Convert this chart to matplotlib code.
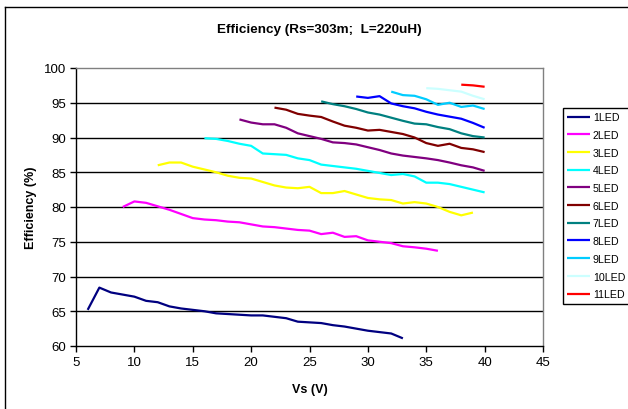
import matplotlib
matplotlib.use("Agg")
import matplotlib.pyplot as plt
from matplotlib.lines import Line2D

plt.rcParams['font.family'] = ['Liberation Sans', 'DejaVu Sans']

labels = ["1LED", "2LED", "3LED", "4LED", "5LED", "6LED", "7LED", "8LED", "9LED", "10LED", "11LED"]
colors = ["#000080", "#FF00FF", "#FFFF00", "#00FFFF", "#800080", "#800000",
          "#008080", "#0000FF", "#00CCFF", "#CCFFFF", "#FF0000"]

vs_1 = list(range(6, 34))
eff_1 = [65.2, 68.4, 67.7, 67.4, 67.1, 66.5, 66.3, 65.7, 65.4, 65.2, 65.0, 64.7, 64.6, 64.5,
         64.4, 64.4, 64.2, 64.0, 63.5, 63.4, 63.3, 63.0, 62.8, 62.5, 62.2, 62.0, 61.8, 61.1]
vs_2 = list(range(9, 37))
eff_2 = [80.0, 80.8, 80.6, 80.1, 79.6, 79.0, 78.4, 78.2, 78.1, 77.9, 77.8, 77.5, 77.2, 77.1,
         76.9, 76.7, 76.6, 76.1, 76.3, 75.7, 75.8, 75.2, 75.0, 74.8, 74.35, 74.2, 74.0, 73.7]
vs_3 = list(range(12, 40))
eff_3 = [86.0, 86.4, 86.4, 85.8, 85.4, 85.0, 84.5, 84.2, 84.1, 83.6, 83.1, 82.8, 82.7, 82.9,
         82.0, 82.0, 82.3, 81.8, 81.3, 81.1, 81.0, 80.5, 80.7, 80.5, 80.0, 79.3, 78.8, 79.2]
vs_4 = list(range(16, 41))
eff_4 = [89.9, 89.8, 89.5, 89.1, 88.8, 87.7, 87.6, 87.5, 87.0, 86.75, 86.1, 85.9, 85.7, 85.5,
         85.2, 84.9, 84.6, 84.75, 84.4, 83.5, 83.5, 83.3, 82.9, 82.5, 82.1]
vs_5 = list(range(19, 41))
eff_5 = [92.6, 92.15, 91.9, 91.9, 91.4, 90.6, 90.2, 89.8, 89.3, 89.2, 89.0, 88.6, 88.2, 87.7,
         87.4, 87.2, 87.0, 86.75, 86.4, 86.0, 85.7, 85.2]
vs_6 = list(range(22, 41))
eff_6 = [94.3, 94.0, 93.4, 93.15, 92.95, 92.3, 91.7, 91.4, 91.0, 91.1, 90.8, 90.5, 90.0, 89.2,
         88.8, 89.1, 88.5, 88.3, 87.9]
vs_7 = list(range(26, 41))
eff_7 = [95.2, 94.8, 94.5, 94.1, 93.6, 93.3, 92.85, 92.4, 92.0, 91.9, 91.5, 91.2, 90.6, 90.2, 90.0]
vs_8 = list(range(29, 41))
eff_8 = [95.9, 95.7, 95.95, 94.9, 94.5, 94.2, 93.7, 93.3, 93.0, 92.7, 92.1, 91.4]
vs_9 = list(range(32, 41))
eff_9 = [96.6, 96.1, 96.0, 95.5, 94.7, 95.0, 94.4, 94.6, 94.1]
vs_10 = list(range(35, 41))
eff_10 = [97.1, 97.0, 96.8, 96.6, 96.0, 95.5]
vs_11 = list(range(38, 41))
eff_11 = [97.6, 97.5, 97.3]

series_x = [vs_1, vs_2, vs_3, vs_4, vs_5, vs_6, vs_7, vs_8, vs_9, vs_10, vs_11]
series_y = [eff_1, eff_2, eff_3, eff_4, eff_5, eff_6, eff_7, eff_8, eff_9, eff_10, eff_11]

x_ticks = [5, 10, 15, 20, 25, 30, 35, 40, 45]
y_ticks = [60, 65, 70, 75, 80, 85, 90, 95, 100]

W, H = 628, 410
fig = plt.figure(figsize=(W / 100, H / 100), dpi=100)
ax = fig.add_axes([76 / W, 1 - 347 / H, (543 - 76) / W, (347 - 69) / H])

for xs, ys, c, lab in zip(series_x, series_y, colors, labels):
    ax.plot(xs, ys, color=c, lw=1.6, label=lab, solid_capstyle='butt')

ax.set_xlim(5, 45)
ax.set_ylim(60, 100)
ax.set_xticks(x_ticks)
ax.set_yticks(y_ticks)
ax.tick_params(direction='out', length=4, width=1, labelsize=9.5, pad=3, colors='black')
for yv in y_ticks[1:-1]:
    ax.axhline(yv, color='black', lw=1, zorder=0)
ax.spines['left'].set_color('black')
ax.spines['bottom'].set_color('black')
ax.spines['top'].set_color('#808080')
ax.spines['right'].set_color('#808080')
for s in ax.spines.values():
    s.set_linewidth(1)

ax.set_xlabel("Vs (V)", fontsize=9, fontweight='bold', labelpad=11)
ax.set_ylabel("Efficiency (%)", fontsize=9, fontweight='bold', labelpad=5)
fig.text(319 / W, 1 - 30 / H, "Efficiency (Rs=303m;  L=220uH)", fontsize=9.7,
         fontweight='bold', ha='center', va='center')

leg = fig.legend(loc='upper left', bbox_to_anchor=(563 / W, 1 - 109 / H), fontsize=7.7,
                 frameon=True, fancybox=False, edgecolor='black', framealpha=1,
                 handlelength=2.1, handletextpad=0.3, labelspacing=0.72,
                 borderpad=0.4, borderaxespad=0)
leg.get_frame().set_linewidth(1)

fig.add_artist(Line2D([5 / W, 1.0], [1 - 8 / H, 1 - 8 / H], color='black', lw=1,
                      transform=fig.transFigure))
fig.add_artist(Line2D([5 / W, 5 / W], [0, 1 - 8 / H], color='black', lw=1,
                      transform=fig.transFigure))

fig.savefig("out.png", dpi=100)
